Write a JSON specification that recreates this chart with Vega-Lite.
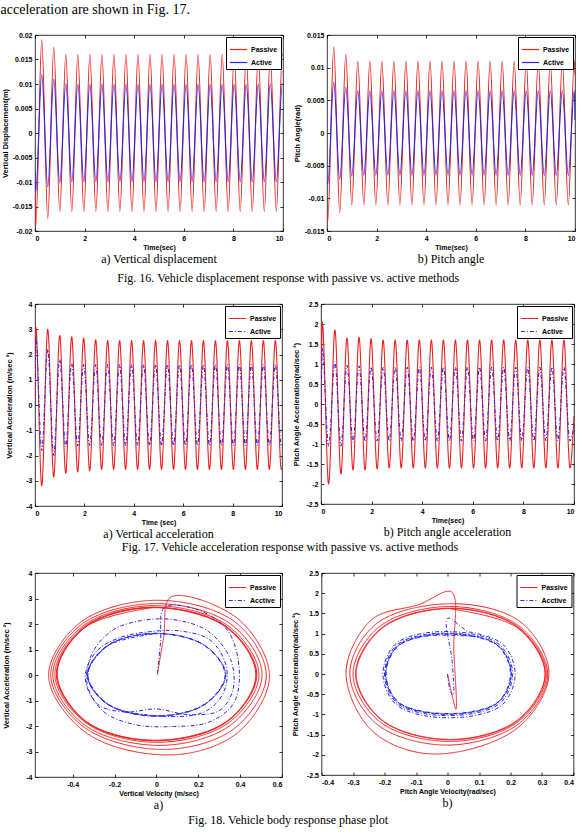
{
"$schema": "https://vega.github.io/schema/vega-lite/v6.json",
"background": "white",
"padding": {"top": 2, "left": 0, "right": 0, "bottom": 0},
"title": {"text": "acceleration are shown in Fig. 17.", "anchor": "start", "font": "Liberation Serif", "fontSize": 14, "fontWeight": "normal", "color": "black", "offset": 14},
"columns": 1,
"align": "none",
"spacing": {"row": 14, "column": 0},
"datasets": {
"ts": [
{"t":0,"s":"Passive","vd":-0.011,"pa":-0.0125,"va":0},
{"t":0.03,"s":"Passive","vd":-0.019,"pa":-0.0135,"va":3.1},
{"t":0.2725,"s":"Passive","vd":0.019,"pa":0.0132,"va":-3.2},
{"t":0.515,"s":"Passive","vd":-0.0175,"pa":-0.0122,"va":3.0},
{"t":0.7575,"s":"Passive","vd":0.0175,"pa":0.012,"va":-2.85},
{"t":1.0,"s":"Passive","vd":-0.016,"pa":-0.011,"va":2.75},
{"t":1.2425,"s":"Passive","vd":0.016,"pa":0.011,"va":-2.7},
{"t":1.485,"s":"Passive","vd":-0.016,"pa":-0.011,"va":2.7},
{"t":1.7275,"s":"Passive","vd":0.016,"pa":0.011,"va":-2.65},
{"t":1.97,"s":"Passive","vd":-0.016,"pa":-0.011,"va":2.65},
{"t":2.2125,"s":"Passive","vd":0.016,"pa":0.011,"va":-2.6},
{"t":2.455,"s":"Passive","vd":-0.016,"pa":-0.011,"va":2.58},
{"t":2.6975,"s":"Passive","vd":0.016,"pa":0.011,"va":-2.55},
{"t":2.94,"s":"Passive","vd":-0.016,"pa":-0.011,"va":2.55},
{"t":3.1825,"s":"Passive","vd":0.016,"pa":0.011,"va":-2.55},
{"t":3.425,"s":"Passive","vd":-0.016,"pa":-0.011,"va":2.55},
{"t":3.6675,"s":"Passive","vd":0.016,"pa":0.011,"va":-2.55},
{"t":3.91,"s":"Passive","vd":-0.016,"pa":-0.011,"va":2.55},
{"t":4.1525,"s":"Passive","vd":0.016,"pa":0.011,"va":-2.55},
{"t":4.395,"s":"Passive","vd":-0.016,"pa":-0.011,"va":2.55},
{"t":4.6375,"s":"Passive","vd":0.016,"pa":0.011,"va":-2.55},
{"t":4.88,"s":"Passive","vd":-0.016,"pa":-0.011,"va":2.55},
{"t":5.1225,"s":"Passive","vd":0.016,"pa":0.011,"va":-2.55},
{"t":5.365,"s":"Passive","vd":-0.016,"pa":-0.011,"va":2.55},
{"t":5.6075,"s":"Passive","vd":0.016,"pa":0.011,"va":-2.55},
{"t":5.85,"s":"Passive","vd":-0.016,"pa":-0.011,"va":2.55},
{"t":6.0925,"s":"Passive","vd":0.016,"pa":0.011,"va":-2.55},
{"t":6.335,"s":"Passive","vd":-0.016,"pa":-0.011,"va":2.55},
{"t":6.5775,"s":"Passive","vd":0.016,"pa":0.011,"va":-2.55},
{"t":6.82,"s":"Passive","vd":-0.016,"pa":-0.011,"va":2.55},
{"t":7.0625,"s":"Passive","vd":0.016,"pa":0.011,"va":-2.55},
{"t":7.305,"s":"Passive","vd":-0.016,"pa":-0.011,"va":2.55},
{"t":7.5475,"s":"Passive","vd":0.016,"pa":0.011,"va":-2.55},
{"t":7.79,"s":"Passive","vd":-0.016,"pa":-0.011,"va":2.55},
{"t":8.0325,"s":"Passive","vd":0.016,"pa":0.011,"va":-2.55},
{"t":8.275,"s":"Passive","vd":-0.016,"pa":-0.011,"va":2.55},
{"t":8.5175,"s":"Passive","vd":0.016,"pa":0.011,"va":-2.55},
{"t":8.76,"s":"Passive","vd":-0.016,"pa":-0.011,"va":2.55},
{"t":9.0025,"s":"Passive","vd":0.016,"pa":0.011,"va":-2.55},
{"t":9.245,"s":"Passive","vd":-0.016,"pa":-0.011,"va":2.55},
{"t":9.4875,"s":"Passive","vd":0.016,"pa":0.011,"va":-2.55},
{"t":9.73,"s":"Passive","vd":-0.016,"pa":-0.011,"va":2.55},
{"t":9.9725,"s":"Passive","vd":0.016,"pa":0.011,"va":-2.55},
{"t":10,"s":"Passive","vd":0.0158,"pa":0.009,"va":-2.5},
{"t":0,"s":"Active","vd":-0.008,"pa":-0.0074,"va":0},
{"t":0.03,"s":"Active","vd":-0.012,"pa":-0.0079,"va":2.7},
{"t":0.2725,"s":"Active","vd":0.012,"pa":0.0078,"va":-1.8},
{"t":0.515,"s":"Active","vd":-0.011,"pa":-0.0071,"va":2.2},
{"t":0.7575,"s":"Active","vd":0.011,"pa":0.007,"va":-2.0},
{"t":1.0,"s":"Active","vd":-0.0102,"pa":-0.0066,"va":1.8},
{"t":1.2425,"s":"Active","vd":0.0101,"pa":0.0065,"va":-1.65},
{"t":1.485,"s":"Active","vd":-0.01,"pa":-0.0065,"va":1.65},
{"t":1.7275,"s":"Active","vd":0.01,"pa":0.0065,"va":-1.62},
{"t":1.97,"s":"Active","vd":-0.01,"pa":-0.0065,"va":1.6},
{"t":2.2125,"s":"Active","vd":0.01,"pa":0.0065,"va":-1.6},
{"t":2.455,"s":"Active","vd":-0.01,"pa":-0.0065,"va":1.6},
{"t":2.6975,"s":"Active","vd":0.01,"pa":0.0065,"va":-1.6},
{"t":2.94,"s":"Active","vd":-0.01,"pa":-0.0065,"va":1.6},
{"t":3.1825,"s":"Active","vd":0.01,"pa":0.0065,"va":-1.6},
{"t":3.425,"s":"Active","vd":-0.01,"pa":-0.0065,"va":1.6},
{"t":3.6675,"s":"Active","vd":0.01,"pa":0.0065,"va":-1.6},
{"t":3.91,"s":"Active","vd":-0.01,"pa":-0.0065,"va":1.6},
{"t":4.1525,"s":"Active","vd":0.01,"pa":0.0065,"va":-1.6},
{"t":4.395,"s":"Active","vd":-0.01,"pa":-0.0065,"va":1.6},
{"t":4.6375,"s":"Active","vd":0.01,"pa":0.0065,"va":-1.6},
{"t":4.88,"s":"Active","vd":-0.01,"pa":-0.0065,"va":1.6},
{"t":5.1225,"s":"Active","vd":0.01,"pa":0.0065,"va":-1.6},
{"t":5.365,"s":"Active","vd":-0.01,"pa":-0.0065,"va":1.6},
{"t":5.6075,"s":"Active","vd":0.01,"pa":0.0065,"va":-1.6},
{"t":5.85,"s":"Active","vd":-0.01,"pa":-0.0065,"va":1.6},
{"t":6.0925,"s":"Active","vd":0.01,"pa":0.0065,"va":-1.6},
{"t":6.335,"s":"Active","vd":-0.01,"pa":-0.0065,"va":1.6},
{"t":6.5775,"s":"Active","vd":0.01,"pa":0.0065,"va":-1.6},
{"t":6.82,"s":"Active","vd":-0.01,"pa":-0.0065,"va":1.6},
{"t":7.0625,"s":"Active","vd":0.01,"pa":0.0065,"va":-1.6},
{"t":7.305,"s":"Active","vd":-0.01,"pa":-0.0065,"va":1.6},
{"t":7.5475,"s":"Active","vd":0.01,"pa":0.0065,"va":-1.6},
{"t":7.79,"s":"Active","vd":-0.01,"pa":-0.0065,"va":1.6},
{"t":8.0325,"s":"Active","vd":0.01,"pa":0.0065,"va":-1.6},
{"t":8.275,"s":"Active","vd":-0.01,"pa":-0.0065,"va":1.6},
{"t":8.5175,"s":"Active","vd":0.01,"pa":0.0065,"va":-1.6},
{"t":8.76,"s":"Active","vd":-0.01,"pa":-0.0065,"va":1.6},
{"t":9.0025,"s":"Active","vd":0.01,"pa":0.0065,"va":-1.6},
{"t":9.245,"s":"Active","vd":-0.01,"pa":-0.0065,"va":1.6},
{"t":9.4875,"s":"Active","vd":0.01,"pa":0.0065,"va":-1.6},
{"t":9.73,"s":"Active","vd":-0.01,"pa":-0.0065,"va":1.6},
{"t":9.9725,"s":"Active","vd":0.01,"pa":0.0065,"va":-1.6},
{"t":10,"s":"Active","vd":0.0099,"pa":0.002,"va":-1.55}
],
"pc": [
{"t":0,"s":"Passive","v":-0.9},
{"t":0.05,"s":"Passive","v":2.05},
{"t":0.3,"s":"Passive","v":-2.0},
{"t":0.55,"s":"Passive","v":1.85},
{"t":0.788,"s":"Passive","v":-1.75},
{"t":1.026,"s":"Passive","v":1.65},
{"t":1.265,"s":"Passive","v":-1.65},
{"t":1.503,"s":"Passive","v":1.67},
{"t":1.741,"s":"Passive","v":-1.65},
{"t":1.979,"s":"Passive","v":1.63},
{"t":2.217,"s":"Passive","v":-1.62},
{"t":2.456,"s":"Passive","v":1.6},
{"t":2.694,"s":"Passive","v":-1.6},
{"t":2.932,"s":"Passive","v":1.6},
{"t":3.17,"s":"Passive","v":-1.6},
{"t":3.408,"s":"Passive","v":1.6},
{"t":3.647,"s":"Passive","v":-1.6},
{"t":3.885,"s":"Passive","v":1.6},
{"t":4.123,"s":"Passive","v":-1.6},
{"t":4.361,"s":"Passive","v":1.6},
{"t":4.599,"s":"Passive","v":-1.6},
{"t":4.838,"s":"Passive","v":1.6},
{"t":5.076,"s":"Passive","v":-1.6},
{"t":5.314,"s":"Passive","v":1.6},
{"t":5.552,"s":"Passive","v":-1.6},
{"t":5.79,"s":"Passive","v":1.6},
{"t":6.029,"s":"Passive","v":-1.6},
{"t":6.267,"s":"Passive","v":1.6},
{"t":6.505,"s":"Passive","v":-1.6},
{"t":6.743,"s":"Passive","v":1.6},
{"t":6.981,"s":"Passive","v":-1.6},
{"t":7.22,"s":"Passive","v":1.6},
{"t":7.458,"s":"Passive","v":-1.6},
{"t":7.696,"s":"Passive","v":1.6},
{"t":7.934,"s":"Passive","v":-1.6},
{"t":8.172,"s":"Passive","v":1.6},
{"t":8.411,"s":"Passive","v":-1.6},
{"t":8.649,"s":"Passive","v":1.6},
{"t":8.887,"s":"Passive","v":-1.6},
{"t":9.125,"s":"Passive","v":1.6},
{"t":9.363,"s":"Passive","v":-1.6},
{"t":9.602,"s":"Passive","v":1.6},
{"t":9.84,"s":"Passive","v":-1.6},
{"t":10,"s":"Passive","v":-0.3},
{"t":0,"s":"Active","v":-0.5},
{"t":0.05,"s":"Active","v":1.4},
{"t":0.3,"s":"Active","v":-1.05},
{"t":0.55,"s":"Active","v":1.05},
{"t":0.788,"s":"Active","v":-1.05},
{"t":1.026,"s":"Active","v":0.97},
{"t":1.265,"s":"Active","v":-0.95},
{"t":1.503,"s":"Active","v":0.95},
{"t":1.741,"s":"Active","v":-0.93},
{"t":1.979,"s":"Active","v":0.93},
{"t":2.217,"s":"Active","v":-0.92},
{"t":2.456,"s":"Active","v":0.92},
{"t":2.694,"s":"Active","v":-0.92},
{"t":2.932,"s":"Active","v":0.92},
{"t":3.17,"s":"Active","v":-0.92},
{"t":3.408,"s":"Active","v":0.92},
{"t":3.647,"s":"Active","v":-0.92},
{"t":3.885,"s":"Active","v":0.92},
{"t":4.123,"s":"Active","v":-0.92},
{"t":4.361,"s":"Active","v":0.92},
{"t":4.599,"s":"Active","v":-0.92},
{"t":4.838,"s":"Active","v":0.92},
{"t":5.076,"s":"Active","v":-0.92},
{"t":5.314,"s":"Active","v":0.92},
{"t":5.552,"s":"Active","v":-0.92},
{"t":5.79,"s":"Active","v":0.92},
{"t":6.029,"s":"Active","v":-0.92},
{"t":6.267,"s":"Active","v":0.92},
{"t":6.505,"s":"Active","v":-0.92},
{"t":6.743,"s":"Active","v":0.92},
{"t":6.981,"s":"Active","v":-0.92},
{"t":7.22,"s":"Active","v":0.92},
{"t":7.458,"s":"Active","v":-0.92},
{"t":7.696,"s":"Active","v":0.92},
{"t":7.934,"s":"Active","v":-0.92},
{"t":8.172,"s":"Active","v":0.92},
{"t":8.411,"s":"Active","v":-0.92},
{"t":8.649,"s":"Active","v":0.92},
{"t":8.887,"s":"Active","v":-0.92},
{"t":9.125,"s":"Active","v":0.92},
{"t":9.363,"s":"Active","v":-0.92},
{"t":9.602,"s":"Active","v":0.92},
{"t":9.84,"s":"Active","v":-0.92},
{"t":10,"s":"Active","v":-0.55}
],
"ph1": [
{"s":"Passive","i":0,"x":0.004,"y":0.0},
{"s":"Passive","i":1,"x":0.035,"y":1.5},
{"s":"Passive","i":2,"x":0.068,"y":3.05},
{"s":"Passive","i":3,"x":0.39,"y":2.2},
{"s":"Passive","i":4,"x":0.54,"y":-0.05},
{"s":"Passive","i":5,"x":0.39,"y":-2.25},
{"s":"Passive","i":6,"x":0.08,"y":-3.13},
{"s":"Passive","i":7,"x":-0.33,"y":-2.3},
{"s":"Passive","i":8,"x":-0.515,"y":-0.05},
{"s":"Passive","i":9,"x":-0.365,"y":2.05},
{"s":"Passive","i":10,"x":0.0,"y":2.93},
{"s":"Passive","i":11,"x":0.375,"y":2.08},
{"s":"Passive","i":12,"x":0.525,"y":-0.02},
{"s":"Passive","i":13,"x":0.375,"y":-2.08},
{"s":"Passive","i":14,"x":0.04,"y":-2.92},
{"s":"Passive","i":15,"x":-0.345,"y":-2.05},
{"s":"Passive","i":16,"x":-0.505,"y":0.0},
{"s":"Passive","i":17,"x":-0.358,"y":1.98},
{"s":"Passive","i":18,"x":-0.005,"y":2.8},
{"s":"Passive","i":19,"x":0.358,"y":1.98},
{"s":"Passive","i":20,"x":0.505,"y":0.0},
{"s":"Passive","i":21,"x":0.355,"y":-1.96},
{"s":"Passive","i":22,"x":0.02,"y":-2.76},
{"s":"Passive","i":23,"x":-0.345,"y":-1.95},
{"s":"Passive","i":24,"x":-0.495,"y":0.02},
{"s":"Passive","i":25,"x":-0.35,"y":1.93},
{"s":"Passive","i":26,"x":-0.01,"y":2.72},
{"s":"Passive","i":27,"x":0.345,"y":1.91},
{"s":"Passive","i":28,"x":0.49,"y":0.0},
{"s":"Passive","i":29,"x":0.345,"y":-1.87},
{"s":"Passive","i":30,"x":0.0,"y":-2.64},
{"s":"Passive","i":31,"x":-0.34,"y":-1.86},
{"s":"Passive","i":32,"x":-0.485,"y":0.03},
{"s":"Passive","i":33,"x":-0.345,"y":1.9},
{"s":"Passive","i":34,"x":-0.015,"y":2.66},
{"s":"Passive","i":35,"x":0.338,"y":1.88},
{"s":"Passive","i":36,"x":0.48,"y":0.01},
{"s":"Passive","i":37,"x":0.338,"y":-1.83},
{"s":"Passive","i":38,"x":-0.005,"y":-2.58},
{"s":"Passive","i":39,"x":-0.338,"y":-1.83},
{"s":"Passive","i":40,"x":-0.478,"y":0.04},
{"s":"Passive","i":41,"x":-0.342,"y":1.88},
{"s":"Passive","i":42,"x":-0.015,"y":2.64},
{"s":"Passive","i":43,"x":0.335,"y":1.86},
{"s":"Passive","i":44,"x":0.475,"y":0.01},
{"s":"Passive","i":45,"x":0.335,"y":-1.82},
{"s":"Passive","i":46,"x":-0.01,"y":-2.56},
{"s":"Passive","i":47,"x":-0.335,"y":-1.82},
{"s":"Passive","i":48,"x":-0.474,"y":0.05},
{"s":"Passive","i":49,"x":-0.34,"y":1.87},
{"s":"Passive","i":50,"x":-0.012,"y":2.65},
{"s":"Passive","i":51,"x":0.336,"y":1.87},
{"s":"Passive","i":52,"x":0.477,"y":0.0},
{"s":"Passive","i":53,"x":0.336,"y":-1.83},
{"s":"Passive","i":54,"x":-0.008,"y":-2.57},
{"s":"Passive","i":55,"x":-0.337,"y":-1.82},
{"s":"Passive","i":56,"x":-0.476,"y":0.04},
{"s":"Passive","i":57,"x":-0.341,"y":1.87},
{"s":"Passive","i":58,"x":-0.014,"y":2.65},
{"s":"Acctive","i":0,"x":0.005,"y":0.05},
{"s":"Acctive","i":1,"x":0.02,"y":1.3},
{"s":"Acctive","i":2,"x":0.038,"y":2.65},
{"s":"Acctive","i":3,"x":0.2,"y":2.55},
{"s":"Acctive","i":4,"x":0.34,"y":1.75},
{"s":"Acctive","i":5,"x":0.395,"y":0.3},
{"s":"Acctive","i":6,"x":0.37,"y":-1.1},
{"s":"Acctive","i":7,"x":0.25,"y":-1.85},
{"s":"Acctive","i":8,"x":0.08,"y":-2.02},
{"s":"Acctive","i":9,"x":-0.1,"y":-1.95},
{"s":"Acctive","i":10,"x":-0.25,"y":-1.45},
{"s":"Acctive","i":11,"x":-0.33,"y":-0.4},
{"s":"Acctive","i":12,"x":-0.31,"y":0.8},
{"s":"Acctive","i":13,"x":-0.21,"y":1.75},
{"s":"Acctive","i":14,"x":-0.06,"y":2.15},
{"s":"Acctive","i":15,"x":0.1,"y":2.15},
{"s":"Acctive","i":16,"x":0.25,"y":1.7},
{"s":"Acctive","i":17,"x":0.355,"y":0.6},
{"s":"Acctive","i":18,"x":0.365,"y":-0.6},
{"s":"Acctive","i":19,"x":0.3,"y":-1.4},
{"s":"Acctive","i":20,"x":0.15,"y":-1.55},
{"s":"Acctive","i":21,"x":0.0,"y":-1.33},
{"s":"Acctive","i":22,"x":-0.15,"y":-1.45},
{"s":"Acctive","i":23,"x":-0.28,"y":-1.15},
{"s":"Acctive","i":24,"x":-0.34,"y":-0.1},
{"s":"Acctive","i":25,"x":-0.29,"y":0.9},
{"s":"Acctive","i":26,"x":-0.18,"y":1.45},
{"s":"Acctive","i":27,"x":-0.03,"y":1.7},
{"s":"Acctive","i":28,"x":0.12,"y":1.72},
{"s":"Acctive","i":29,"x":0.26,"y":1.35},
{"s":"Acctive","i":30,"x":0.335,"y":0.3},
{"s":"Acctive","i":31,"x":0.32,"y":-0.7},
{"s":"Acctive","i":32,"x":0.24,"y":-1.4},
{"s":"Acctive","i":33,"x":0.1,"y":-1.63},
{"s":"Acctive","i":34,"x":-0.233,"y":-1.15},
{"s":"Acctive","i":35,"x":-0.33,"y":0.0},
{"s":"Acctive","i":36,"x":-0.233,"y":1.15},
{"s":"Acctive","i":37,"x":0.0,"y":1.63},
{"s":"Acctive","i":38,"x":0.235,"y":1.14},
{"s":"Acctive","i":39,"x":0.332,"y":0.0},
{"s":"Acctive","i":40,"x":0.234,"y":-1.14},
{"s":"Acctive","i":41,"x":0.0,"y":-1.61},
{"s":"Acctive","i":42,"x":-0.231,"y":-1.14},
{"s":"Acctive","i":43,"x":-0.327,"y":0.01},
{"s":"Acctive","i":44,"x":-0.232,"y":1.15},
{"s":"Acctive","i":45,"x":0.003,"y":1.64},
{"s":"Acctive","i":46,"x":0.233,"y":1.15},
{"s":"Acctive","i":47,"x":0.33,"y":0.0},
{"s":"Acctive","i":48,"x":0.233,"y":-1.15},
{"s":"Acctive","i":49,"x":0.0,"y":-1.62},
{"s":"Acctive","i":50,"x":-0.233,"y":-1.15},
{"s":"Acctive","i":51,"x":-0.33,"y":0.0},
{"s":"Acctive","i":52,"x":-0.234,"y":1.16},
{"s":"Acctive","i":53,"x":0.0,"y":1.62},
{"s":"Acctive","i":54,"x":0.232,"y":1.14},
{"s":"Acctive","i":55,"x":0.328,"y":0.0},
{"s":"Acctive","i":56,"x":0.232,"y":-1.13},
{"s":"Acctive","i":57,"x":0.0,"y":-1.6},
{"s":"Acctive","i":58,"x":-0.232,"y":-1.14},
{"s":"Acctive","i":59,"x":-0.328,"y":0.0},
{"s":"Acctive","i":60,"x":-0.232,"y":1.14},
{"s":"Acctive","i":61,"x":0.0,"y":1.62}
],
"ph2": [
{"s":"Passive","i":0,"x":0.0,"y":0.0},
{"s":"Passive","i":1,"x":0.027,"y":-0.87},
{"s":"Passive","i":2,"x":0.02,"y":0.6},
{"s":"Passive","i":3,"x":0.013,"y":2.03},
{"s":"Passive","i":4,"x":-0.09,"y":1.72},
{"s":"Passive","i":5,"x":-0.24,"y":1.35},
{"s":"Passive","i":6,"x":-0.322,"y":0.05},
{"s":"Passive","i":7,"x":-0.24,"y":-1.4},
{"s":"Passive","i":8,"x":-0.05,"y":-1.98},
{"s":"Passive","i":9,"x":0.22,"y":-1.35},
{"s":"Passive","i":10,"x":0.322,"y":0.0},
{"s":"Passive","i":11,"x":0.235,"y":1.27},
{"s":"Passive","i":12,"x":0.02,"y":1.74},
{"s":"Passive","i":13,"x":-0.225,"y":1.25},
{"s":"Passive","i":14,"x":-0.31,"y":0.02},
{"s":"Passive","i":15,"x":-0.225,"y":-1.24},
{"s":"Passive","i":16,"x":0.0,"y":-1.76},
{"s":"Passive","i":17,"x":0.228,"y":-1.22},
{"s":"Passive","i":18,"x":0.318,"y":0.0},
{"s":"Passive","i":19,"x":0.228,"y":1.18},
{"s":"Passive","i":20,"x":0.01,"y":1.67},
{"s":"Passive","i":21,"x":-0.215,"y":1.18},
{"s":"Passive","i":22,"x":-0.3,"y":0.0},
{"s":"Passive","i":23,"x":-0.215,"y":-1.18},
{"s":"Passive","i":24,"x":0.01,"y":-1.67},
{"s":"Passive","i":25,"x":0.226,"y":-1.17},
{"s":"Passive","i":26,"x":0.314,"y":0.0},
{"s":"Passive","i":27,"x":0.225,"y":1.16},
{"s":"Passive","i":28,"x":0.01,"y":1.63},
{"s":"Passive","i":29,"x":-0.208,"y":1.15},
{"s":"Passive","i":30,"x":-0.292,"y":0.0},
{"s":"Passive","i":31,"x":-0.208,"y":-1.15},
{"s":"Passive","i":32,"x":0.01,"y":-1.63},
{"s":"Passive","i":33,"x":0.224,"y":-1.15},
{"s":"Passive","i":34,"x":0.31,"y":0.0},
{"s":"Passive","i":35,"x":0.224,"y":1.15},
{"s":"Passive","i":36,"x":0.01,"y":1.62},
{"s":"Passive","i":37,"x":-0.206,"y":1.14},
{"s":"Passive","i":38,"x":-0.29,"y":0.0},
{"s":"Passive","i":39,"x":-0.206,"y":-1.15},
{"s":"Passive","i":40,"x":0.01,"y":-1.62},
{"s":"Passive","i":41,"x":0.222,"y":-1.14},
{"s":"Passive","i":42,"x":0.31,"y":0.0},
{"s":"Passive","i":43,"x":0.222,"y":1.14},
{"s":"Passive","i":44,"x":0.01,"y":1.61},
{"s":"Acctive","i":0,"x":0.0,"y":0.0},
{"s":"Acctive","i":1,"x":0.01,"y":-0.45},
{"s":"Acctive","i":2,"x":0.018,"y":-0.52},
{"s":"Acctive","i":3,"x":0.015,"y":0.3},
{"s":"Acctive","i":4,"x":0.0,"y":1.38},
{"s":"Acctive","i":5,"x":0.065,"y":1.05},
{"s":"Acctive","i":6,"x":0.085,"y":1.02},
{"s":"Acctive","i":7,"x":0.178,"y":0.72},
{"s":"Acctive","i":8,"x":0.215,"y":0.0},
{"s":"Acctive","i":9,"x":0.178,"y":-0.73},
{"s":"Acctive","i":10,"x":0.085,"y":-1.03},
{"s":"Acctive","i":11,"x":-0.075,"y":-1.03},
{"s":"Acctive","i":12,"x":-0.168,"y":-0.72},
{"s":"Acctive","i":13,"x":-0.205,"y":0.0},
{"s":"Acctive","i":14,"x":-0.168,"y":0.72},
{"s":"Acctive","i":15,"x":-0.075,"y":1.01},
{"s":"Acctive","i":16,"x":0.08,"y":0.99},
{"s":"Acctive","i":17,"x":0.17,"y":0.69},
{"s":"Acctive","i":18,"x":0.207,"y":0.0},
{"s":"Acctive","i":19,"x":0.17,"y":-0.7},
{"s":"Acctive","i":20,"x":0.08,"y":-0.98},
{"s":"Acctive","i":21,"x":-0.075,"y":-0.98},
{"s":"Acctive","i":22,"x":-0.165,"y":-0.69},
{"s":"Acctive","i":23,"x":-0.2,"y":0.0},
{"s":"Acctive","i":24,"x":-0.165,"y":0.69},
{"s":"Acctive","i":25,"x":-0.075,"y":0.97},
{"s":"Acctive","i":26,"x":0.078,"y":0.955},
{"s":"Acctive","i":27,"x":0.166,"y":0.675},
{"s":"Acctive","i":28,"x":0.203,"y":0.0},
{"s":"Acctive","i":29,"x":0.166,"y":-0.675},
{"s":"Acctive","i":30,"x":0.078,"y":-0.95},
{"s":"Acctive","i":31,"x":-0.074,"y":-0.95},
{"s":"Acctive","i":32,"x":-0.162,"y":-0.675},
{"s":"Acctive","i":33,"x":-0.197,"y":0.0},
{"s":"Acctive","i":34,"x":-0.162,"y":0.675},
{"s":"Acctive","i":35,"x":-0.074,"y":0.95},
{"s":"Acctive","i":36,"x":0.077,"y":0.945},
{"s":"Acctive","i":37,"x":0.164,"y":0.667},
{"s":"Acctive","i":38,"x":0.2,"y":0.0},
{"s":"Acctive","i":39,"x":0.164,"y":-0.667},
{"s":"Acctive","i":40,"x":0.077,"y":-0.94},
{"s":"Acctive","i":41,"x":-0.073,"y":-0.94},
{"s":"Acctive","i":42,"x":-0.16,"y":-0.667},
{"s":"Acctive","i":43,"x":-0.195,"y":0.0},
{"s":"Acctive","i":44,"x":-0.16,"y":0.667},
{"s":"Acctive","i":45,"x":-0.073,"y":0.94},
{"s":"Acctive","i":46,"x":0.078,"y":0.935},
{"s":"Acctive","i":47,"x":0.166,"y":0.66},
{"s":"Acctive","i":48,"x":0.202,"y":0.0},
{"s":"Acctive","i":49,"x":0.166,"y":-0.66},
{"s":"Acctive","i":50,"x":0.078,"y":-0.93},
{"s":"Acctive","i":51,"x":-0.074,"y":-0.93},
{"s":"Acctive","i":52,"x":-0.162,"y":-0.66},
{"s":"Acctive","i":53,"x":-0.197,"y":0.0},
{"s":"Acctive","i":54,"x":-0.162,"y":0.66},
{"s":"Acctive","i":55,"x":-0.074,"y":0.93},
{"s":"Acctive","i":56,"x":0.078,"y":0.935}
]
},
"resolve": {"scale": {"color": "independent", "strokeDash": "independent"}, "legend": {"color": "independent", "strokeDash": "independent"}},
"concat": [
{
"title": {"text": "Fig. 16. Vehicle displacement response with passive vs. active methods", "orient": "bottom", "anchor": "middle", "offset": 8},
"spacing": 8,
"resolve": {"scale": {"color": "independent", "strokeDash": "independent"}, "legend": {"color": "independent", "strokeDash": "independent"}},
"hconcat": [
{
"width": 248, "height": 196,
"title": {"text": "a) Vertical displacement", "orient": "bottom", "offset": 4},
"resolve": {"axis": {"x": "independent", "y": "independent"}},
"layer": [
{"data": {"name": "ts"}, "mark": {"type": "line", "interpolate": "monotone", "strokeWidth": 1.1, "clip": true},
"encoding": {
"x": {"field": "t", "type": "quantitative", "scale": {"domain": [0, 10], "nice": false, "zero": false}, "axis": {"values": [0,2,4,6,8,10], "title": "Time(sec)", "labelExpr": "'' + datum.value"}},
"y": {"field": "vd", "type": "quantitative", "scale": {"domain": [-0.02, 0.02], "nice": false, "zero": false}, "axis": {"values": [-0.02,-0.015,-0.01,-0.005,0,0.005,0.01,0.015,0.02], "title": "Vertical Displacement(m)", "labelExpr": "'' + datum.value", "minExtent": 24, "maxExtent": 24}},
"color": {"field": "s", "type": "nominal", "scale": {"domain": ["Passive", "Active"], "range": ["#ee2020", "#2828e8"]}, "legend": {"title": null}}
}},
{"data": {"values": []}, "mark": {"type": "point", "opacity": 0},
"encoding": {
"x": {"field": "t", "type": "quantitative", "axis": {"orient": "top", "labels": false, "title": null, "values": [0,2,4,6,8,10]}},
"y": {"field": "vd", "type": "quantitative", "axis": {"orient": "right", "labels": false, "title": null, "values": [-0.02,-0.015,-0.01,-0.005,0,0.005,0.01,0.015,0.02]}}
}}
]
},
{
"width": 248, "height": 196,
"title": {"text": "b) Pitch angle", "orient": "bottom", "offset": 4},
"resolve": {"axis": {"x": "independent", "y": "independent"}},
"layer": [
{"data": {"name": "ts"}, "mark": {"type": "line", "interpolate": "monotone", "strokeWidth": 1.1, "clip": true},
"encoding": {
"x": {"field": "t", "type": "quantitative", "scale": {"domain": [0, 10], "nice": false, "zero": false}, "axis": {"values": [0,2,4,6,8,10], "title": "Time(sec)", "labelExpr": "'' + datum.value"}},
"y": {"field": "pa", "type": "quantitative", "scale": {"domain": [-0.015, 0.015], "nice": false, "zero": false}, "axis": {"values": [-0.015,-0.01,-0.005,0,0.005,0.01,0.015], "title": "Pitch Angle(rad)", "labelExpr": "'' + datum.value", "minExtent": 24, "maxExtent": 24}},
"color": {"field": "s", "type": "nominal", "scale": {"domain": ["Passive", "Active"], "range": ["#ee2020", "#2828e8"]}, "legend": {"title": null}}
}},
{"data": {"values": []}, "mark": {"type": "point", "opacity": 0},
"encoding": {
"x": {"field": "t", "type": "quantitative", "axis": {"orient": "top", "labels": false, "title": null, "values": [0,2,4,6,8,10]}},
"y": {"field": "pa", "type": "quantitative", "axis": {"orient": "right", "labels": false, "title": null, "values": [-0.015,-0.01,-0.005,0,0.005,0.01,0.015]}}
}}
]
}
]
},
{
"title": {"text": "Fig. 17. Vehicle acceleration response with passive vs. active methods", "orient": "bottom", "anchor": "middle", "offset": 2},
"spacing": 8,
"resolve": {"scale": {"color": "independent", "strokeDash": "independent"}, "legend": {"color": "independent", "strokeDash": "independent"}},
"hconcat": [
{
"width": 247, "height": 202,
"title": {"text": "a) Vertical acceleration", "orient": "bottom", "offset": 4},
"resolve": {"axis": {"x": "independent", "y": "independent"}},
"layer": [
{"data": {"name": "ts"}, "mark": {"type": "line", "interpolate": "monotone", "strokeWidth": 1.1, "clip": true},
"encoding": {
"x": {"field": "t", "type": "quantitative", "scale": {"domain": [0, 10], "nice": false, "zero": false}, "axis": {"values": [0,2,4,6,8,10], "title": "Time (sec)", "labelExpr": "'' + datum.value"}},
"y": {"field": "va", "type": "quantitative", "scale": {"domain": [-4, 4], "nice": false, "zero": false}, "axis": {"values": [-4,-3,-2,-1,0,1,2,3,4], "title": "Vertical Acceleration (m/sec ²)", "labelExpr": "'' + datum.value", "minExtent": 19.5, "maxExtent": 19.5}},
"color": {"field": "s", "type": "nominal", "scale": {"domain": ["Passive", "Active"], "range": ["#ee2020", "#2828e8"]}, "legend": {"title": null}},
"strokeDash": {"field": "s", "type": "nominal", "scale": {"domain": ["Passive", "Active"], "range": [[1, 0], [4, 2, 1, 2]]}, "legend": {"title": null}}
}},
{"data": {"values": []}, "mark": {"type": "point", "opacity": 0},
"encoding": {
"x": {"field": "t", "type": "quantitative", "axis": {"orient": "top", "labels": false, "title": null, "values": [0,2,4,6,8,10]}},
"y": {"field": "va", "type": "quantitative", "axis": {"orient": "right", "labels": false, "title": null, "values": [-4,-3,-2,-1,0,1,2,3,4]}}
}}
]
},
{
"width": 253, "height": 200,
"title": {"text": "b) Pitch angle acceleration", "orient": "bottom", "offset": 4},
"resolve": {"axis": {"x": "independent", "y": "independent"}},
"layer": [
{"data": {"name": "pc"}, "mark": {"type": "line", "interpolate": "monotone", "strokeWidth": 1.1, "clip": true},
"encoding": {
"x": {"field": "t", "type": "quantitative", "scale": {"domain": [0, 10], "nice": false, "zero": false}, "axis": {"values": [0,2,4,6,8,10], "title": "Time(sec)", "labelExpr": "'' + datum.value"}},
"y": {"field": "v", "type": "quantitative", "scale": {"domain": [-2.5, 2.5], "nice": false, "zero": false}, "axis": {"values": [-2.5,-2,-1.5,-1,-0.5,0,0.5,1,1.5,2,2.5], "title": "Pitch Angle Acceleration(rad/sec ²)", "labelExpr": "'' + datum.value", "minExtent": 19, "maxExtent": 19}},
"color": {"field": "s", "type": "nominal", "scale": {"domain": ["Passive", "Active"], "range": ["#ee2020", "#2828e8"]}, "legend": {"title": null}},
"strokeDash": {"field": "s", "type": "nominal", "scale": {"domain": ["Passive", "Active"], "range": [[1, 0], [4, 2, 1, 2]]}, "legend": {"title": null}}
}},
{"data": {"values": []}, "mark": {"type": "point", "opacity": 0},
"encoding": {
"x": {"field": "t", "type": "quantitative", "axis": {"orient": "top", "labels": false, "title": null, "values": [0,2,4,6,8,10]}},
"y": {"field": "v", "type": "quantitative", "axis": {"orient": "right", "labels": false, "title": null, "values": [-2.5,-2,-1.5,-1,-0.5,0,0.5,1,1.5,2,2.5]}}
}}
]
}
]
},
{
"title": {"text": "Fig. 18. Vehicle body response phase plot", "orient": "bottom", "anchor": "middle", "offset": 4},
"spacing": 7.5,
"resolve": {"scale": {"color": "independent", "strokeDash": "independent"}, "legend": {"color": "independent", "strokeDash": "independent"}},
"hconcat": [
{
"width": 247, "height": 204,
"title": {"text": "a)", "orient": "bottom", "offset": 4},
"resolve": {"axis": {"x": "independent", "y": "independent"}},
"layer": [
{"data": {"name": "ph1"}, "mark": {"type": "line", "interpolate": "catmull-rom", "strokeWidth": 1, "clip": true},
"encoding": {
"x": {"field": "x", "type": "quantitative", "scale": {"domain": [-0.58, 0.6], "nice": false, "zero": false}, "axis": {"values": [-0.4,-0.2,0,0.2,0.4,0.6], "title": "Vertical Velocity (m/sec)", "labelExpr": "'' + datum.value"}},
"y": {"field": "y", "type": "quantitative", "scale": {"domain": [-4, 4], "nice": false, "zero": false}, "axis": {"values": [-4,-3,-2,-1,0,1,2,3,4], "title": "Vertical Acceleration (m/sec ²)", "labelExpr": "'' + datum.value", "minExtent": 22.5, "maxExtent": 22.5}},
"order": {"field": "i", "type": "quantitative"},
"color": {"field": "s", "type": "nominal", "scale": {"domain": ["Passive", "Acctive"], "range": ["#ee2020", "#2828e8"]}, "legend": {"title": null}},
"strokeDash": {"field": "s", "type": "nominal", "scale": {"domain": ["Passive", "Acctive"], "range": [[1, 0], [4, 2, 1, 2]]}, "legend": {"title": null}}
}},
{"data": {"values": []}, "mark": {"type": "point", "opacity": 0},
"encoding": {
"x": {"field": "x", "type": "quantitative", "axis": {"orient": "top", "labels": false, "title": null, "values": [-0.4,-0.2,0,0.2,0.4,0.6]}},
"y": {"field": "y", "type": "quantitative", "axis": {"orient": "right", "labels": false, "title": null, "values": [-4,-3,-2,-1,0,1,2,3,4]}}
}}
]
},
{
"width": 252, "height": 202,
"title": {"text": "b)", "orient": "bottom", "offset": 4},
"resolve": {"axis": {"x": "independent", "y": "independent"}},
"layer": [
{"data": {"name": "ph2"}, "mark": {"type": "line", "interpolate": "catmull-rom", "strokeWidth": 1, "clip": true},
"encoding": {
"x": {"field": "x", "type": "quantitative", "scale": {"domain": [-0.4, 0.4], "nice": false, "zero": false}, "axis": {"values": [-0.4,-0.3,-0.2,-0.1,0,0.1,0.2,0.3,0.4], "title": "Pitch Angle Velocity(rad/sec)", "labelExpr": "'' + datum.value"}},
"y": {"field": "y", "type": "quantitative", "scale": {"domain": [-2.5, 2.5], "nice": false, "zero": false}, "axis": {"values": [-2.5,-2,-1.5,-1,-0.5,0,0.5,1,1.5,2,2.5], "title": "Pitch Angle Acceleration(rad/sec ²)", "labelExpr": "'' + datum.value", "minExtent": 20.5, "maxExtent": 20.5}},
"order": {"field": "i", "type": "quantitative"},
"color": {"field": "s", "type": "nominal", "scale": {"domain": ["Passive", "Acctive"], "range": ["#ee2020", "#2828e8"]}, "legend": {"title": null}},
"strokeDash": {"field": "s", "type": "nominal", "scale": {"domain": ["Passive", "Acctive"], "range": [[1, 0], [4, 2, 1, 2]]}, "legend": {"title": null}}
}},
{"data": {"values": []}, "mark": {"type": "point", "opacity": 0},
"encoding": {
"x": {"field": "x", "type": "quantitative", "axis": {"orient": "top", "labels": false, "title": null, "values": [-0.4,-0.3,-0.2,-0.1,0,0.1,0.2,0.3,0.4]}},
"y": {"field": "y", "type": "quantitative", "axis": {"orient": "right", "labels": false, "title": null, "values": [-2.5,-2,-1.5,-1,-0.5,0,0.5,1,1.5,2,2.5]}}
}}
]
}
]
}
],
"config": {
"view": {"stroke": "black", "strokeWidth": 0.8},
"axis": {"grid": false, "domain": false, "ticks": true, "tickSize": -3, "tickColor": "black", "tickWidth": 0.8, "labelFont": "Liberation Sans", "labelFontWeight": "bold", "labelFontSize": 7, "labelColor": "black", "labelPadding": 6, "titleFont": "Liberation Sans", "titleFontWeight": "bold", "titleFontSize": 7, "titleColor": "black", "titlePadding": 2, "labelOverlap": false},
"axisY": {"titleFontSize": 7.5},
"title": {"font": "Liberation Serif", "fontSize": 12, "fontWeight": "normal", "color": "black"},
"legend": {"orient": "top-right", "offset": 2, "strokeColor": "black", "fillColor": "white", "padding": 3, "labelFont": "Liberation Sans", "labelFontWeight": "bold", "labelFontSize": 7, "labelColor": "black", "symbolSize": 300, "symbolStrokeWidth": 1.2, "rowPadding": 0, "labelOffset": 3, "symbolType": "stroke"}
}
}
